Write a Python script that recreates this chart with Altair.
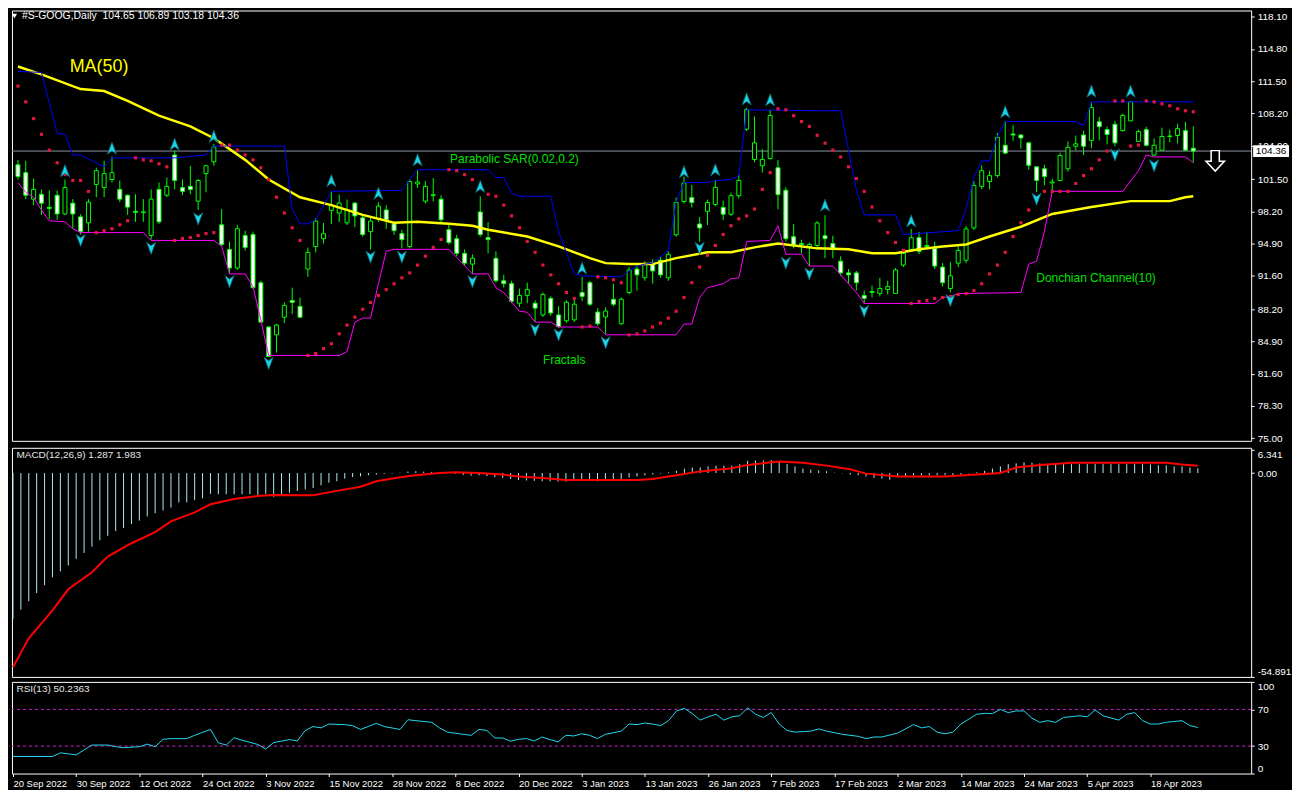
import json
import altair as alt
import pandas as pd

# ---------------- data ----------------
N = 151
OPEN = [102.95, 102.15, 99.44, 99.94, 98.6, 99.84, 97.93, 99.03, 97.63, 97.02,
        100.95, 100.64, 101.45, 100.44, 99.84, 98.2, 98.05, 95.72, 100.44, 99.84,
        103.96, 100.64, 100.75, 99.24, 102.05, 103.26, 96.82, 94.3, 92.4, 95.72,
        95.82, 90.89, 86.37, 85.57, 87.37, 89.08, 88.48, 92.3, 94.6, 95.4,
        98.3, 98.03, 97.02, 99.04, 97.53, 96.12, 97.43, 98.33, 96.92, 95.92,
        94.6, 101.0, 99.24, 99.8, 99.44, 96.32, 95.4, 93.9, 92.8, 98.13,
        95.5, 93.4, 91.1, 90.8, 88.8, 89.6, 88.8, 87.6, 89.3, 87.6,
        87.0, 87.1, 89.9, 90.9, 87.9, 87.4, 89.2, 86.7, 89.9, 92.3,
        91.4, 92.9, 93.2, 91.4, 95.8, 99.2, 99.6, 96.9, 98.2, 98.9,
        98.6, 97.9, 99.8, 106.6, 103.5, 102.85, 103.6, 102.65, 100.35, 95.6,
        94.9, 94.6, 94.7, 95.7, 94.9, 93.1, 91.9, 91.9, 89.6, 89.9,
        89.8, 90.2, 89.8, 92.7, 94.3, 95.5, 94.7, 94.4, 92.5, 90.3,
        92.9, 93.2, 96.5, 100.75, 101.25, 101.85, 104.95, 106.1, 106.0, 105.2,
        102.75, 102.55, 101.1, 101.35, 102.55, 104.85, 106.0, 105.45, 107.35, 106.55,
        107.1, 106.45, 107.45, 105.35, 106.55, 103.95, 104.45, 105.9, 105.95, 106.45,
        104.65]
HIGH = [103.45, 103.36, 101.55, 100.44, 100.34, 100.34, 101.45, 99.44, 97.9, 99.44,
        102.66, 103.36, 103.8, 101.35, 99.94, 99.94, 99.44, 100.44, 101.14, 101.65,
        104.4, 101.45, 102.85, 101.5, 102.95, 105.1, 98.43, 95.1, 96.82, 96.22,
        96.12, 91.1, 86.47, 86.7, 88.88, 90.39, 89.38, 94.5, 97.5, 97.0,
        100.2, 99.9, 99.4, 99.14, 97.8, 97.6, 99.14, 98.8, 97.1, 96.3,
        101.5, 102.4, 101.3, 101.6, 99.84, 96.9, 95.8, 94.3, 93.8, 99.74,
        97.1, 94.1, 91.7, 91.1, 90.3, 90.9, 89.1, 89.9, 89.5, 88.5,
        89.1, 89.4, 91.5, 91.1, 88.3, 88.4, 90.8, 89.4, 92.5, 92.9,
        93.1, 93.3, 93.6, 94.1, 99.6, 101.75, 100.9, 97.6, 99.4, 101.4,
        99.3, 100.1, 101.95, 108.8, 107.9, 104.55, 108.6, 103.45, 100.65, 96.9,
        95.3, 95.0, 97.2, 97.8, 95.7, 93.6, 92.3, 92.1, 90.1, 90.6,
        91.4, 91.1, 92.4, 94.3, 96.4, 96.1, 96.1, 95.1, 92.9, 93.0,
        94.6, 96.7, 101.3, 102.9, 102.35, 106.2, 107.4, 107.0, 106.1, 105.3,
        102.75, 102.95, 101.55, 104.2, 105.35, 105.95, 106.45, 109.4, 107.85, 106.85,
        107.45, 108.2, 109.45, 106.55, 106.85, 105.65, 106.75, 106.55, 107.15, 107.35,
        106.89]
LOW = [101.45, 99.44, 98.83, 97.83, 97.43, 97.33, 97.83, 96.42, 95.82, 96.12,
       99.64, 99.64, 101.14, 99.14, 97.83, 97.12, 97.12, 95.3, 96.92, 99.64,
       100.44, 99.84, 99.94, 98.33, 100.14, 102.85, 94.6, 91.8, 92.2, 94.2,
       90.3, 86.8, 83.3, 83.75, 86.77, 87.68, 87.27, 91.5, 94.0, 94.9,
       96.9, 97.1, 96.8, 96.6, 95.6, 94.3, 97.1, 96.4, 95.8, 94.4,
       94.4, 100.6, 99.0, 99.2, 97.1, 94.8, 93.6, 92.6, 91.8, 95.6,
       93.9, 90.9, 90.4, 88.8, 88.4, 88.8, 86.9, 87.4, 87.5, 86.3,
       86.8, 86.9, 89.0, 88.5, 86.5, 85.6, 88.5, 86.6, 89.7, 90.1,
       91.1, 90.8, 91.4, 91.1, 95.6, 99.0, 98.6, 95.1, 96.8, 98.7,
       97.3, 97.7, 99.5, 106.4, 103.2, 102.15, 103.5, 98.4, 95.1, 94.4,
       93.9, 92.6, 94.3, 93.4, 93.4, 91.6, 90.8, 90.1, 88.8, 89.4,
       89.5, 89.7, 89.8, 92.5, 94.1, 93.8, 94.3, 92.3, 90.5, 89.9,
       92.5, 92.9, 96.3, 100.45, 100.45, 101.65, 104.05, 105.4, 104.6, 102.45,
       100.15, 100.85, 100.35, 101.25, 102.25, 104.45, 103.95, 104.65, 105.45, 105.05,
       104.85, 106.35, 107.4, 105.35, 104.85, 103.85, 104.45, 105.25, 105.15, 104.45,
       103.18]
CLOSE = [101.75, 99.84, 100.44, 99.03, 98.5, 97.93, 100.64, 97.93, 96.12, 99.14,
         102.35, 102.05, 102.15, 99.44, 98.63, 98.1, 98.15, 99.44, 97.12, 100.75,
         101.35, 100.24, 100.44, 101.35, 102.85, 104.77, 94.81, 92.4, 96.42, 94.51,
         90.39, 86.87, 83.35, 86.57, 88.58, 88.88, 87.37, 94.0, 97.2, 95.9,
         98.8, 99.04, 98.33, 97.73, 95.82, 97.2, 98.73, 97.33, 96.22, 95.31,
         101.25, 101.2, 100.75, 99.9, 97.33, 95.01, 93.9, 92.9, 93.4, 95.82,
         95.3, 91.1, 90.8, 89.0, 89.6, 90.2, 88.3, 89.7, 87.8, 86.4,
         88.9, 88.7, 89.5, 88.7, 86.7, 88.0, 88.7, 89.2, 92.2, 91.7,
         92.8, 92.1, 91.7, 93.8, 99.1, 101.1, 99.1, 96.5, 99.1, 100.65,
         97.9, 99.8, 101.35, 108.6, 105.2, 103.5, 108.0, 99.9, 95.4, 94.8,
         94.8, 94.8, 97.0, 95.4, 94.4, 91.9, 91.7, 90.9, 89.3, 90.0,
         90.3, 90.5, 92.2, 93.9, 95.5, 94.1, 94.6, 92.6, 90.9, 91.6,
         94.2, 96.4, 100.85, 102.35, 101.85, 105.75, 104.15, 106.0, 105.7, 102.9,
         101.35, 101.75, 101.2, 103.9, 104.75, 105.1, 104.85, 108.8, 106.85, 106.05,
         105.2, 108.0, 109.4, 106.35, 104.95, 104.95, 105.85, 105.85, 106.65, 104.45,
         104.36]
SAR = [111.00, 109.39, 107.68, 106.07, 104.46, 103.16, 101.95, 101.35, 101.35, 100.24,
       96.02, 96.22, 96.42, 96.82, 97.23, 103.66, 103.46, 103.36, 103.06, 102.75,
       95.22, 95.42, 95.52, 95.72, 95.92, 96.02, 104.97, 104.97, 104.46, 103.96,
       103.46, 102.65, 101.45, 99.64, 98.03, 96.52, 95.22, 83.46, 83.66, 84.16,
       84.66, 85.67, 86.57, 87.38, 88.18, 88.88, 89.59, 90.19, 90.79, 91.40,
       91.90, 92.70, 93.61, 94.51, 95.32, 102.45, 102.35, 101.95, 101.45, 100.64,
       99.94, 99.74, 98.83, 97.73, 96.52, 95.12, 94.01, 92.70, 91.70, 90.79,
       89.89, 89.29, 86.37, 86.47, 91.50, 91.40, 91.20, 90.90, 85.57, 85.67,
       85.97, 86.37, 86.77, 87.28, 87.98, 89.39, 90.90, 92.50, 93.71, 94.71,
       95.82, 96.72, 97.43, 97.73, 98.43, 100.44, 102.15, 108.68, 108.58, 107.98,
       107.38, 106.88, 105.97, 105.17, 104.46, 103.76, 102.75, 101.55, 100.24, 98.63,
       97.23, 96.02, 95.02, 94.21, 88.78, 88.98, 89.08, 89.29, 89.39, 89.49,
       89.69, 89.79, 90.09, 90.79, 91.80, 92.70, 94.01, 95.62, 97.03, 98.33,
       99.34, 100.24, 100.24, 100.24, 100.24, 101.04, 101.85, 102.55, 103.46, 104.36,
       109.49, 109.49, 104.87, 104.97, 109.49, 109.39, 109.19, 108.99, 108.68, 108.48,
       108.38]

MA_I = [0, 3, 8, 11, 14, 18, 22, 25, 29, 32, 36, 40, 44, 48, 51, 55, 58, 60, 65, 69,
        73, 75, 78, 81, 84, 88, 91, 94, 97, 102, 106, 109, 112, 115, 118, 121, 124,
        128, 132, 137, 142, 147, 149, 150]
MA_V = [113.0, 112.2, 110.7, 110.5, 109.5, 107.98, 106.88, 105.67, 103.46, 101.45,
        99.64, 98.83, 97.83, 97.03, 97.13, 96.92, 96.72, 96.32, 95.62, 94.61,
        93.41, 92.90, 92.80, 92.80, 93.41, 94.01, 94.01, 94.51, 94.91, 94.41,
        94.31, 93.91, 93.91, 94.31, 94.61, 94.81, 95.62, 96.62, 97.93, 98.63,
        99.24, 99.24, 99.64, 99.74]

DUP_I = [0, 3, 5, 6, 7, 8, 11, 12, 20, 24, 25, 34, 35, 36, 37, 38, 40, 49, 50, 51,
         60, 61, 62, 63, 64, 68, 69, 71, 72, 77, 78, 79, 80, 81, 83, 84, 85, 88, 89,
         91, 92, 93, 102, 105, 106, 107, 108, 112, 113, 120, 121, 122, 123, 124, 125,
         126, 135, 136, 137, 150]
DUP_V = [112.50, 112.40, 106.17, 106.07, 103.96, 103.96, 102.75, 103.66, 103.66, 103.96,
         104.87, 104.87, 98.43, 96.92, 96.92, 97.33, 100.24, 100.34, 101.45, 102.45,
         102.45, 101.65, 101.65, 100.04, 99.74, 99.74, 96.12, 91.80, 91.60, 91.50,
         92.10, 92.60, 92.80, 92.90, 94.21, 99.14, 101.14, 101.14, 101.35, 101.45,
         101.85, 108.58, 108.48, 108.48, 104.46, 100.44, 97.83, 97.83, 95.82, 96.22,
         98.43, 101.65, 103.36, 103.36, 105.87, 107.38, 107.38, 106.98, 109.39, 109.39]

DLO_I = [0, 1, 2, 3, 4, 6, 7, 8, 16, 17, 25, 26, 27, 29, 30, 31, 32, 41, 42, 43,
         44, 45, 46, 47, 48, 55, 58, 60, 61, 62, 64, 65, 66, 68, 69, 74, 75, 84, 85,
         86, 87, 88, 90, 91, 92, 93, 96, 97, 98, 100, 101, 104, 107, 108, 117, 118,
         119, 120, 128, 129, 130, 131, 132, 141, 143, 144, 145, 149, 150]
DLO_V = [101.14, 100.14, 99.64, 98.33, 97.23, 97.12, 96.42, 96.02, 96.02, 95.22,
         95.22, 94.61, 91.80, 91.80, 90.49, 87.07, 83.46, 83.46, 83.86, 86.87,
         87.28, 87.28, 90.79, 94.11, 94.31, 94.31, 91.80, 91.80, 90.39, 89.89,
         87.98, 87.88, 86.87, 86.87, 86.37, 86.37, 85.57, 85.57, 86.67, 86.67,
         89.39, 90.39, 90.79, 91.30, 91.40, 95.12, 95.22, 96.72, 93.81, 93.81,
         92.60, 92.60, 89.89, 88.78, 88.78, 89.39, 89.49, 89.79, 89.89, 92.80,
         93.10, 96.12, 100.24, 100.24, 102.35, 103.96, 103.76, 103.76, 103.16]

FUP_I = [6, 12, 20, 25, 40, 46, 51, 59, 72, 85, 89, 93, 96, 103, 114, 126, 137, 142]
FUP_V = [102.35, 104.66, 105.07, 105.87, 101.35, 100.04, 103.46, 100.74, 92.40, 102.25,
         102.45, 109.69, 109.59, 98.83, 97.23, 108.38, 110.49, 110.49]
FDN_I = [8, 17, 23, 27, 32, 45, 49, 58, 66, 69, 75, 87, 98, 101, 108, 119, 130, 140, 145]
FDN_V = [95.22, 94.41, 97.43, 91.00, 82.65, 93.51, 93.51, 91.00, 86.07, 85.57,
         84.76, 94.41, 92.90, 91.80, 87.98, 89.08, 99.44, 103.96, 102.85]

MACD_HIST = [-39.3, -36.8, -34.5, -32.3, -30.2, -28.1, -26.5, -24.9, -23.1, -21.5,
             -19.8, -18.1, -16.9, -15.6, -14.8, -13.7, -12.8, -11.7, -10.8, -10.1,
             -9.3, -7.9, -7.9, -7.3, -6.8, -5.6, -5.7, -5.7, -5.7, -5.7,
             -5.7, -5.9, -5.6, -6.4, -5.7, -5.3, -4.8, -4.4, -4.0, -3.3,
             -2.6, -2.2, -1.5, -1.1, -0.9, -0.6, -0.4, -0.2, -0.1, 0.1,
             0.4, 0.5, 0.4, 0.3, 0.2, 0.0, -0.2, -0.5, -0.7, -0.6,
             -0.8, -1.1, -1.3, -1.6, -1.9, -2.0, -2.1, -2.2, -2.2, -2.3,
             -2.3, -2.1, -2.0, -2.0, -2.2, -2.1, -1.9, -1.7, -1.2, -0.9,
             -0.6, -0.4, -0.2, 0.2, 0.6, 1.2, 1.5, 1.5, 1.8, 2.0,
             2.0, 2.0, 2.4, 3.3, 3.4, 3.4, 3.5, 2.9, 2.4, 1.8,
             1.2, 0.95, 0.7, 0.5, 0.1, -0.1, -0.4, -0.6, -0.9, -1.3,
             -1.5, -1.8, -1.1, -0.9, -0.6, -0.6, -0.6, -0.6, -0.6, -0.6,
             -0.4, -0.1, 0.2, 0.6, 1.2, 1.8, 2.4, 2.6, 2.9, 2.8,
             2.6, 2.4, 2.4, 2.4, 2.4, 2.4, 2.4, 2.4, 2.4, 2.4,
             2.4, 2.4, 2.4, 2.4, 2.3, 2.1, 2.1, 1.8, 1.8, 1.5,
             1.287]
SIG_I = [0, 2, 5, 7, 10, 12, 15, 18, 20, 23, 25, 28, 31, 33, 36, 38, 41, 44, 46, 49,
         51, 54, 56, 59, 62, 64, 67, 70, 75, 79, 81, 84, 87, 91, 93, 97, 100, 103,
         106, 108, 112, 118, 122, 125, 127, 130, 134, 146, 148, 150]
SIG_V = [-52.3, -44.5, -37.0, -31.3, -26.7, -22.5, -18.9, -15.9, -13.0, -10.6,
         -8.4, -7.0, -6.2, -5.9, -6.0, -6.0, -4.8, -3.7, -2.2, -1.1,
         -0.6, 0.0, 0.2, 0.0, -0.4, -0.9, -1.3, -1.85, -1.85, -1.85,
         -1.6, -0.6, 0.45, 1.3, 2.2, 3.1, 2.8, 2.0, 1.0, -0.15,
         -0.9, -0.9, -0.4, 0.0, 1.5, 2.2, 2.8, 2.8, 2.3, 1.983]

RSI_I = [0, 5, 6, 7, 8, 10, 12, 13, 14, 16, 17, 18, 19, 20, 22, 23, 25, 26, 27, 28,
         29, 31, 32, 33, 35, 36, 37, 38, 39, 40, 42, 43, 44, 46, 47, 49, 50, 51, 53,
         54, 55, 57, 58, 59, 60, 61, 62, 63, 64, 65, 66, 67, 68, 69, 70, 71, 72, 73,
         74, 75, 77, 78, 79, 80, 81, 82, 83, 84, 85, 86, 87, 88, 89, 90, 91, 92, 93,
         94, 95, 96, 97, 98, 99, 101, 102, 103, 105, 107, 108, 109, 110, 112, 114,
         115, 116, 117, 118, 119, 120, 122, 123, 124, 125, 126, 127, 128, 129, 130,
         131, 132, 133, 135, 136, 137, 138, 140, 141, 142, 143, 144, 145, 146, 148,
         149, 150]
RSI_V = [18.6, 18.6, 22.6, 21.5, 20.4, 31.1, 31.1, 29.3, 28.2, 29.3, 32.1, 29.3, 37.4,
         38.1, 38.1, 41.7, 48.1, 33.5, 31.1, 39.1, 36.4, 31.7, 26.8, 33.8, 37.0, 35.6,
         47.0, 51.3, 49.8, 54.0, 53.4, 52.3, 48.1, 54.8, 51.3, 48.1, 58.7, 57.7, 55.9,
         49.8, 45.2, 42.8, 41.7, 48.1, 47.0, 38.8, 38.8, 35.3, 37.4, 38.1, 35.6, 39.9,
         37.0, 34.6, 41.7, 41.0, 43.4, 41.7, 38.1, 42.8, 46.3, 54.0, 53.4, 55.1, 54.0,
         52.3, 57.7, 68.3, 71.1, 65.4, 58.3, 61.9, 64.7, 58.3, 61.9, 63.0, 71.8, 64.7,
         61.2, 66.5, 54.0, 47.0, 45.2, 46.3, 48.7, 46.3, 42.8, 40.6, 38.1, 39.9, 39.9,
         44.1, 53.4, 49.8, 51.3, 45.2, 43.4, 45.2, 54.0, 64.7, 65.7, 65.4, 70.0, 66.5,
         68.3, 68.3, 60.4, 55.9, 57.7, 55.9, 61.2, 63.0, 61.9, 69.4, 63.0, 58.3, 64.7,
         66.5, 57.7, 54.0, 54.0, 55.9, 57.7, 52.3, 50.2363]

DATE_LABELS = ["20 Sep 2022", "30 Sep 2022", "12 Oct 2022", "24 Oct 2022", "3 Nov 2022",
               "15 Nov 2022", "28 Nov 2022", "8 Dec 2022", "20 Dec 2022", "3 Jan 2023",
               "13 Jan 2023", "26 Jan 2023", "7 Feb 2023", "17 Feb 2023", "2 Mar 2023",
               "14 Mar 2023", "24 Mar 2023", "5 Apr 2023", "18 Apr 2023"]
DATE_STEP = 8
PRICE_TICKS = [75.00, 78.30, 81.60, 84.90, 88.20, 91.60, 94.90, 98.20, 101.50, 104.90,
               108.20, 111.50, 114.80, 118.10]
MACD_TICKS = [-54.891, 0.0, 6.341]
RSI_TICKS = [0, 30, 70, 100]
RSI_LEVELS = [30, 70]
LAST_PRICE = 104.36

HEADER = "#S-GOOG,Daily\u00a0\u00a0104.65 106.89 103.18 104.36"
MACD_TITLE = "MACD(12,26,9) 1.287 1.983"
RSI_TITLE = "RSI(13) 50.2363"

ANN_TEXT = ["Parabolic SAR(0.02,0.2)", "Fractals", "Donchian Channel(10)"]
ANN_I = [55.15, 67.0, 129.97]
ANN_P = [103.56, 82.95, 91.40]
MA_LABEL = ["MA(50)"]
MA_LABEL_I = [6.6]
MA_LABEL_P = [113.0]
SIGNAL_ARROW_I = [152.8]
SIGNAL_ARROW_P = [103.36]

for arr in (OPEN, HIGH, LOW, CLOSE, SAR, MACD_HIST):
    assert len(arr) == N, len(arr)
assert len(MA_I) == len(MA_V) and len(DUP_I) == len(DUP_V) and len(DLO_I) == len(DLO_V)
assert len(SIG_I) == len(SIG_V) and len(RSI_I) == len(RSI_V)
assert len(FUP_I) == len(FUP_V) and len(FDN_I) == len(FDN_V)

# ---------------- chart ----------------
W = 1244
H_PRICE, H_MACD, H_RSI = 432, 230, 92
FONT = "Liberation Sans"
GREEN = "#00ff00"
XS = alt.Scale(domain=[-0.125, 156.75], nice=False, zero=False)
YP = alt.Scale(domain=[74.73, 118.73], nice=False, zero=False)
YM = alt.Scale(domain=[-54.9, 6.8], nice=False, zero=False)
YR = alt.Scale(domain=[0, 100], nice=False, zero=False)


def X(field="i"):
    return alt.X(f"{field}:Q", scale=XS, axis=None)


ax_price = alt.Axis(orient="right", values=PRICE_TICKS, format=".2f", title=None,
                    tickSize=3, labelPadding=3, labelFlush=False, domain=False, grid=False)
ax_macd = alt.Axis(orient="right", values=MACD_TICKS, title=None,
                   labelExpr="datum.value == 0 ? '0.00' : '' + datum.value",
                   tickSize=3, labelPadding=3, labelFlush=5, domain=False, grid=False)
ax_rsi = alt.Axis(orient="right", values=RSI_TICKS, format="d", title=None,
                  tickSize=3, labelPadding=3, labelFlush=True, domain=False, grid=False)
ax_date = alt.Axis(orient="bottom", values=list(range(0, DATE_STEP * len(DATE_LABELS), DATE_STEP)),
                   labelExpr=f"{json.dumps(DATE_LABELS)}[round(datum.value / {DATE_STEP})]",
                   labelAlign="left", labelBaseline="top", labelPadding=2, tickSize=3,
                   labelFontSize=9.5, labelFlush=False, title=None, domain=False, grid=False)


def YPr(field):
    return alt.Y(f"{field}:Q", scale=YP, axis=ax_price)


cdf = pd.DataFrame({"i": list(range(N)), "o": OPEN, "h": HIGH, "l": LOW, "c": CLOSE})
cdf["dir"] = ["up" if c >= o else "down" for o, c in zip(OPEN, CLOSE)]

bid = alt.Chart(pd.DataFrame({"p": [LAST_PRICE]})).mark_rule(
    color="#8b95a3", strokeWidth=1).encode(y=YPr("p"))
wick = alt.Chart(cdf).mark_rule(color=GREEN, strokeWidth=1).encode(
    x=X(), y=YPr("l"), y2="h:Q")
body = alt.Chart(cdf).mark_bar(size=4, stroke=GREEN, strokeWidth=1).encode(
    x=X(), y=YPr("o"), y2="c:Q",
    fill=alt.Fill("dir:N", scale=alt.Scale(domain=["up", "down"], range=["#000000", "#ffffff"]),
                  legend=None))
ma = alt.Chart(pd.DataFrame({"i": MA_I, "v": MA_V})).mark_line(
    color="#ffff00", strokeWidth=2.5).encode(x=X(), y=YPr("v"))
dup = alt.Chart(pd.DataFrame({"i": DUP_I, "v": DUP_V})).mark_line(
    color="#0000ff", strokeWidth=1).encode(x=X(), y=YPr("v"))
dlo = alt.Chart(pd.DataFrame({"i": DLO_I, "v": DLO_V})).mark_line(
    color="#ff00ff", strokeWidth=1).encode(x=X(), y=YPr("v"))
sar = alt.Chart(pd.DataFrame({"i": list(range(N)), "v": SAR})).mark_square(
    size=10, color="#e3173e", opacity=1).encode(x=X(), y=YPr("v"))

UP_SHAPE = "M0,-1 L0.75,1 L0,0.45 L-0.75,1 Z"
DN_SHAPE = "M0,1 L0.75,-1 L0,-0.45 L-0.75,-1 Z"
fup = alt.Chart(pd.DataFrame({"i": FUP_I, "v": FUP_V})).mark_point(
    shape=UP_SHAPE, size=150, filled=True, fill="#1cd4ea", stroke="#0e5d66",
    strokeWidth=0.8, opacity=1).encode(x=X(), y=YPr("v"))
fdn = alt.Chart(pd.DataFrame({"i": FDN_I, "v": FDN_V})).mark_point(
    shape=DN_SHAPE, size=150, filled=True, fill="#1cd4ea", stroke="#0e5d66",
    strokeWidth=0.8, opacity=1).encode(x=X(), y=YPr("v"))

ARROW = "M-0.4,-1 L0.4,-1 L0.4,0.05 L0.9,0.05 L0,1 L-0.9,0.05 L-0.4,0.05 Z"
sig_arrow = alt.Chart(pd.DataFrame({"i": SIGNAL_ARROW_I, "v": SIGNAL_ARROW_P})).mark_point(
    shape=ARROW, size=420, filled=True, fill="#000000", stroke="#ffffff",
    strokeWidth=1.5, opacity=1).encode(x=X(), y=YPr("v"))

ann = alt.Chart(pd.DataFrame({"i": ANN_I, "v": ANN_P, "t": ANN_TEXT})).mark_text(
    align="left", baseline="middle", font=FONT, fontSize=12, color="#00e000").encode(
    x=X(), y=YPr("v"), text="t:N")
ma_lab = alt.Chart(pd.DataFrame({"i": MA_LABEL_I, "v": MA_LABEL_P, "t": MA_LABEL})).mark_text(
    align="left", baseline="middle", font=FONT, fontSize=18, color="#ffff00").encode(
    x=X(), y=YPr("v"), text="t:N")

hdr_df = pd.DataFrame({"t": [HEADER]})
header = alt.Chart(hdr_df).mark_text(
    align="left", baseline="middle", font=FONT, fontSize=10.5, color="#ffffff").encode(
    x=alt.value(10), y=alt.value(5.5), text="t:N")
tri = alt.Chart(hdr_df).mark_point(shape="triangle-down", size=28, filled=True,
                                   color="#ffffff", opacity=1).encode(
    x=alt.value(2.5), y=alt.value(5.5))

BOX = "M-1,-0.33 L1,-0.33 L1,0.33 L-1,0.33 Z"
box_df = pd.DataFrame({"p": [LAST_PRICE], "t": [f"{LAST_PRICE:.2f}"]})
box = alt.Chart(box_df).mark_point(shape=BOX, size=1300, filled=True, fill="#ffffff",
                                   strokeWidth=0, opacity=1).encode(
    x=alt.value(W + 20), y=YPr("p"))
box_txt = alt.Chart(box_df).mark_text(align="center", baseline="middle", font=FONT,
                                      fontSize=10, color="#000000").encode(
    x=alt.value(W + 20), y=YPr("p"), text="t:N")

price = alt.layer(bid, wick, body, ma, dup, dlo, sar, fup, fdn, sig_arrow, ann, ma_lab,
                  header, tri, box, box_txt).properties(width=W, height=H_PRICE)

# MACD
hist = alt.Chart(pd.DataFrame({"i": list(range(N)), "v": MACD_HIST})).mark_rule(
    color="#a8eef2", strokeWidth=1).encode(
    x=X(), y=alt.Y("v:Q", scale=YM, axis=ax_macd), y2=alt.datum(0))
sig = alt.Chart(pd.DataFrame({"i": SIG_I, "v": SIG_V})).mark_line(
    color="#ff0000", strokeWidth=2).encode(x=X(), y=alt.Y("v:Q", scale=YM, axis=ax_macd))
mtitle = alt.Chart(pd.DataFrame({"t": [MACD_TITLE]})).mark_text(
    align="left", baseline="middle", font=FONT, fontSize=10, color="#e6e6e6").encode(
    x=alt.value(4.5), y=alt.value(7.5), text="t:N")
macd = alt.layer(hist, sig, mtitle).properties(width=W, height=H_MACD)

# RSI
levels = alt.Chart(pd.DataFrame({"lv": RSI_LEVELS})).mark_rule(
    color="#d020d0", strokeDash=[3, 3], strokeWidth=1).encode(
    y=alt.Y("lv:Q", scale=YR, axis=ax_rsi))
rsil = alt.Chart(pd.DataFrame({"i": RSI_I, "v": RSI_V})).mark_line(
    color="#22d8ee", strokeWidth=1).encode(
    x=alt.X("i:Q", scale=XS, axis=ax_date), y=alt.Y("v:Q", scale=YR, axis=ax_rsi))
rtitle = alt.Chart(pd.DataFrame({"t": [RSI_TITLE]})).mark_text(
    align="left", baseline="middle", font=FONT, fontSize=10, color="#e6e6e6").encode(
    x=alt.value(4.5), y=alt.value(7.5), text="t:N")
rsi = alt.layer(levels, rsil, rtitle).properties(width=W, height=H_RSI)

chart = alt.vconcat(price, macd, rsi, spacing=3).properties(
    background="#000000",
    padding=0,
).configure_view(stroke="#ffffff", strokeWidth=1).configure_axis(
    labelColor="#ffffff", tickColor="#ffffff", labelFont=FONT, labelFontSize=10,
    grid=False, domain=False)

chart.save("out.html", embed_options={"renderer": "svg", "actions": False})
